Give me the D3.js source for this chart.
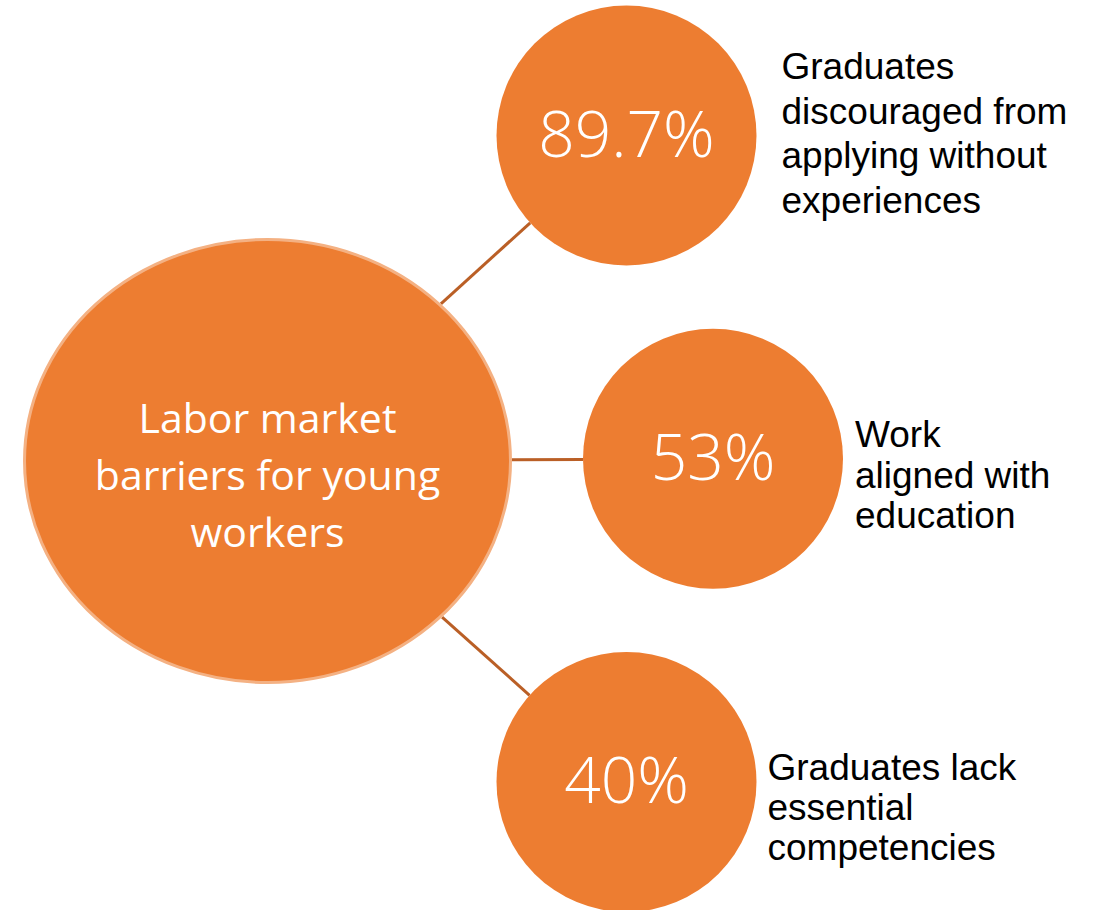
<!DOCTYPE html>
<html>
<head>
<meta charset="utf-8">
<script src="https://cdn.jsdelivr.net/npm/d3@7"></script>
<style>
  body { margin: 0; background: #fff; }
  svg { display: block; }
</style>
</head>
<body>
<svg id="chart" width="1094" height="910"></svg>
<script>
// datos del diagrama
const centerTitle = ["Labor market", "barriers for young", "workers"];
const percentages = ["89.7%", "53%", "40%"];
const descriptions = [
    ["Graduates", "discouraged from", "applying without", "experiences"],
    ["Work", "aligned with", "education"],
    ["Graduates lack", "essential", "competencies"]
];

// layout
const orange = "#ED7D31";
const center = { x: 267.5, y: 461, rx: 244.5, ry: 223 };
const childR = 130;
const childX = [626.5, 713, 626.5];
const labelDx = [25, 12, 11];
const labelTop = [79, 447, 780];
const labelStep = [44.7, 40.5, 40];

const svg = d3.select("#chart");

const yScale = d3.scalePoint()
    .domain(percentages)
    .range([135.5, 782]);

const nodes = percentages.map((p, i) => ({
    value: p,
    lines: descriptions[i],
    x: childX[i],
    y: yScale(p),
    i: i
}));

// Conectores entre la elipse y cada círculo
svg.append("g").selectAll("line")
    .data(nodes)
    .enter()
    .append("line")
    .each(function(d) {
        const dx = d.x - center.x, dy = d.y - center.y;
        const len = Math.hypot(dx, dy);
        const ux = dx / len, uy = dy / len;
        const t = 1 / Math.sqrt((ux / center.rx) ** 2 + (uy / center.ry) ** 2);
        d3.select(this)
            .attr("x1", center.x + ux * t)
            .attr("y1", center.y + uy * t)
            .attr("x2", d.x - ux * childR)
            .attr("y2", d.y - uy * childR);
    })
    .attr("stroke", "#BA5F26")
    .attr("stroke-width", 3);

// Elipse central
svg.append("ellipse")
    .attr("cx", center.x)
    .attr("cy", center.y)
    .attr("rx", center.rx - 1.5)
    .attr("ry", center.ry - 1.5)
    .attr("fill", orange)
    .attr("stroke", "#F4B183")
    .attr("stroke-width", 3);

svg.append("text")
    .attr("text-anchor", "middle")
    .attr("fill", "white")
    .attr("font-family", "'Open Sans', sans-serif")
    .attr("font-size", "41px")
    .selectAll("tspan")
    .data(centerTitle)
    .enter()
    .append("tspan")
    .attr("x", center.x)
    .attr("y", (d, i) => 433 + i * 57)
    .text(d => d);

// Círculos hijos
const child = svg.append("g").selectAll("g.node")
    .data(nodes)
    .enter()
    .append("g")
    .attr("class", "node");

child.append("circle")
    .attr("cx", d => d.x)
    .attr("cy", d => d.y)
    .attr("r", childR)
    .attr("fill", orange);

child.append("text")
    .attr("x", d => d.x)
    .attr("y", d => d.y + 21)
    .attr("text-anchor", "middle")
    .attr("fill", "white")
    .attr("font-family", "'Open Sans', sans-serif")
    .attr("font-weight", 300)
    .attr("font-size", "64px")
    .text(d => d.value);

// Etiquetas de texto a la derecha
child.append("text")
    .attr("fill", "black")
    .attr("font-family", "'Liberation Sans', Arial, sans-serif")
    .attr("font-size", "37px")
    .each(function(d) {
        d3.select(this).selectAll("tspan")
            .data(d.lines)
            .enter()
            .append("tspan")
            .attr("x", d.x + childR + labelDx[d.i])
            .attr("y", (l, j) => labelTop[d.i] + j * labelStep[d.i])
            .text(l => l);
    });
</script>
</body>
</html>
